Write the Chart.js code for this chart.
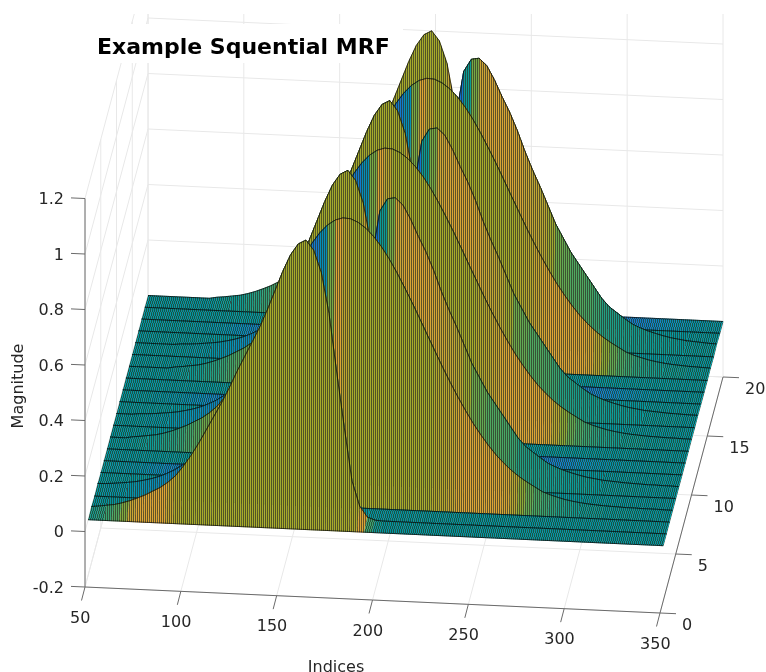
<!DOCTYPE html>
<html><head><meta charset="utf-8">
<style>html,body{margin:0;padding:0;background:#fff}canvas{display:block}</style>
<script src="https://cdn.jsdelivr.net/npm/chart.js@4"></script></head>
<body><canvas id="c" width="766" height="672"></canvas>
<script>
// ---- data ----
const titleText = "Example Squential MRF";
const xLabel = "Indices", zLabel = "Magnitude";
const xTicks = [50,100,150,200,250,300,350];
const yTicks = [0,5,10,15,20];
const zTicks = [-0.2,0,0.2,0.4,0.6,0.8,1,1.2];
const xStart = 50, xStep = 4, xCount = 76;
const rowsY = [1,2,3,4,5,6,7,8,9,10,11,12,13,14,15,16,17,18,19,20];
// Pulse profiles sampled every 4 indices starting at index 50
const pulseA = [.005,.008,.012,.016,.023,.032,.043,.055,.07,.085,.105,.13,.165,.205,.25,.30,.35,.40,.455,.515,.57,.625,.68,.745,.815,.885,.945,.985,1,.965,.885,.74,.53,.33,.14,.05,.012,.002];
const pulseB = [.003,.004,.006,.009,.012,.016,.022,.029,.038,.05,.064,.082,.103,.128,.158,.192,.232,.276,.325,.378,.435,.496,.559,.622,.686,.747,.805,.858,.905,.943,.972,.991,1,.998,.986,.966,.938,.903,.861,.813,.761,.707,.65,.592,.535,.478,.424,.373,.325,.28,.24,.203,.17,.142,.117,.096,.078,.062,.046,.036,.028,.021,.016,.012,.009,.007,.005,.004,.003,.002,.002,.001,.001,.001];
const pulseC = [0,0,0,0,0,0,0,0,0,0,0,0,0,0,0,0,0,0,0,0,.001,.002,.003,.004,.007,.011,.018,.03,.05,.08,.135,.215,.32,.45,.60,.78,.945,.99,.995,.97,.92,.86,.805,.74,.666,.60,.54,.475,.41,.36,.31,.27,.23,.19,.15,.12,.10,.08,.062,.05,.04,.032,.025,.019,.015,.011,.009,.007,.005,.004,.003,.002,.002,.001,.001];
// Rows 2,4,...,20 carry a pulse, odd rows are zero
const evenRowPulses = [pulseA,pulseB,pulseC,pulseA,pulseB,pulseC,pulseA,pulseB,pulseC,pulseA];
const evenRowDelays = [0,0,0,3,3,3,6,6,6,9];

// ---- view ----
const O = {px:85, py:587};           // corner x=50,y=0,z=-0.2
const ex = {px:575/300, py:26/300}, ey = {px:3.15, py:-11.8}, ez = -277.5;
function P(x,y,z){ return {x:O.px+(x-50)*ex.px+y*ey.px, y:O.py+(x-50)*ex.py+y*ey.py+(z+0.2)*ez}; }

const xs = Array.from({length:xCount},(_,i)=>xStart+i*xStep);
const Z = rowsY.map((r)=>{
  if (r%2) return xs.map(()=>0);
  const k=r/2-1, p=evenRowPulses[k], d=evenRowDelays[k];
  return xs.map((_,i)=>{const v=p[i-d]; return v===undefined?0:v;});
});

// ---- colour ----
const stops=[[0,53,42,135],[.1,3,99,225],[.2,20,130,220],[.3,6,150,200],[.4,0,162,168],[.5,40,170,135],[.6,90,180,95],[.7,160,180,50],[.8,215,175,55],[.87,235,175,55],[.93,200,175,50],[1,175,180,45]];
function parulaRGB(t){
  t=Math.max(0,Math.min(1,t));
  for(let i=1;i<stops.length;i++) if(t<=stops[i][0]){
    const a=stops[i-1],b=stops[i],f=(t-a[0])/(b[0]-a[0]);
    return [a[1]+(b[1]-a[1])*f,a[2]+(b[2]-a[2])*f,a[3]+(b[3]-a[3])*f];
  }
  return stops[stops.length-1].slice(1);
}
const colourKnots=[[-.2,.16],[-.05,.2],[-.02,.27],[-.01,.33],[0,.40],[.01,.46],[.02,.52],[.04,.62],[.06,.78],[.08,.85],[.17,.87],[.22,.93],[.3,1]];
function tOf(c){
  if(c<=colourKnots[0][0]) return colourKnots[0][1];
  for(let i=1;i<colourKnots.length;i++) if(c<=colourKnots[i][0]){
    const a=colourKnots[i-1],b=colourKnots[i];
    return a[1]+(b[1]-a[1])*(c-a[0])/(b[0]-a[0]);
  }
  return 1;
}
const ctxProbe=document.createElement('canvas').getContext('2d');
const cache={};
// flat floor cells get slanted mesh lines, walls get vertical ones
function stripes(t,slanted){
  const q=Math.round(t*63);
  const s=slanted?.267:0, H=slanted?15:1;
  const key=q+'_'+s;
  if(cache[key]) return cache[key];
  const tile=document.createElement('canvas'); tile.width=2; tile.height=H;
  const g=tile.getContext('2d');
  const [r,gg,b]=parulaRGB(q/63);
  const bright=`rgb(${r*.95|0},${gg*.95|0},${b*.95|0})`;
  const dark=`rgb(${r*.3+30|0},${gg*.3+30|0},${b*.3+24|0})`;
  for(let k=0;k<H;k++){
    const off=Math.floor(s*(H-k))%2;
    g.fillStyle=bright; g.fillRect(off,k,1,1);
    g.fillStyle=dark; g.fillRect(1-off,k,1,1);
  }
  return cache[key]=ctxProbe.createPattern(tile,'repeat');
}

// ---- datasets, listed back to front ----
const ds=[];
function line(points,color,width,clipTop){
  ds.push({data:points,showLine:true,pointRadius:0,borderColor:color,borderWidth:width,fill:false,tension:0,
           clip:{left:0,right:0,bottom:0,top:clipTop?-14:0}});
}
const gridC='#e8e8e8';
// back wall and left wall
xTicks.forEach(x=>line([P(x,20,-.2),P(x,20,1.2)],gridC,1,true));
zTicks.forEach(z=>line([P(50,20,z),P(350,20,z)],gridC,1,true));
yTicks.forEach(y=>line([P(50,y,-.2),P(50,y,1.2)],gridC,1,true));
zTicks.forEach(z=>line([P(50,0,z),P(50,20,z)],gridC,1,true));
// floor
xTicks.forEach(x=>line([P(x,0,-.2),P(x,20,-.2)],gridC,1));
yTicks.forEach(y=>line([P(50,y,-.2),P(350,y,-.2)],gridC,1));
// axis lines and tick marks
const axisC='#6a6a6a';
line([P(50,0,-.2),P(50,0,1.2)],axisC,1);
line([P(50,0,-.2),P(350,0,-.2)],axisC,1);
line([P(350,0,-.2),P(350,20,-.2)],axisC,1);
zTicks.forEach(z=>{const a=P(50,0,z);line([a,{x:a.x-14,y:a.y-.6}],axisC,1);});
xTicks.forEach(x=>{const a=P(x,0,-.2);line([a,{x:a.x-3.5,y:a.y+13.5}],axisC,1);});
yTicks.forEach(y=>{const a=P(350,y,-.2);line([a,{x:a.x+16,y:a.y+.7}],axisC,1);});
// surface
for(let j=rowsY.length-2;j>=0;j--){
  const y0=rowsY[j],y1=rowsY[j+1];
  for(let i=0;i<xCount-1;i++){
    const c=j>0?(Z[j+1][i]-Z[j-1][i])/2:(Z[j+1][i]-Z[j][i])*2;
    const dz=((Z[j+1][i]-Z[j][i])+(Z[j+1][i+1]-Z[j][i+1]))/2;
    const pat=stripes(tOf(c),Math.abs(dz)<.012);
    ds.push({data:[P(xs[i],y0,Z[j][i]),P(xs[i+1],y0,Z[j][i+1]),P(xs[i+1],y1,Z[j+1][i+1]),P(xs[i],y1,Z[j+1][i])],
      showLine:true,pointRadius:0,tension:0,fill:'shape',backgroundColor:pat,borderColor:pat,borderWidth:.8});
  }
  line(xs.map((x,i)=>P(x,y1,Z[j+1][i])),'rgba(0,0,0,.85)',.8);
  line(xs.map((x,i)=>P(x,y0,Z[j][i])),'rgba(0,0,0,.85)',.8);
}
ds.reverse(); // Chart.js paints the first dataset last

const textPlugin={id:'labels3d',
 afterDraw(ch){
  const g=ch.ctx; g.save();
  g.fillStyle='#fff'; g.fillRect(93,24,310,39);
  g.fillStyle='#000'; g.font='bold 22px "DejaVu Sans"'; g.textAlign='left'; g.textBaseline='alphabetic';
  g.fillText(titleText,97,53.5);
  g.fillStyle='#262626'; g.font='16px "DejaVu Sans"'; g.textBaseline='middle';
  g.textAlign='right';
  zTicks.forEach(z=>{const a=P(50,0,z);g.fillText(String(z),a.x-21,a.y+1.5);});
  g.textAlign='center';
  xTicks.forEach(x=>{const a=P(x,0,-.2);g.fillText(String(x),a.x-4.7,a.y+31.5);});
  g.textAlign='left';
  yTicks.forEach(y=>{const a=P(350,y,-.2);g.fillText(String(y),a.x+22,a.y+12.5);});
  g.textAlign='center';
  g.fillText(xLabel,336,667.5);
  g.translate(19,386); g.rotate(-Math.PI/2); g.fillText(zLabel,0,0);
  g.restore();
}};

new Chart(document.getElementById('c'),{
  type:'scatter',
  data:{datasets:ds},
  options:{responsive:false,animation:false,events:[],
    layout:{padding:0},
    scales:{x:{type:'linear',min:0,max:766,display:false},y:{type:'linear',min:0,max:672,reverse:true,display:false}},
    plugins:{legend:{display:false},tooltip:{enabled:false},title:{display:false},filler:{drawTime:'beforeDatasetDraw',propagate:false}}
  },
  plugins:[textPlugin]
});
</script></body></html>
